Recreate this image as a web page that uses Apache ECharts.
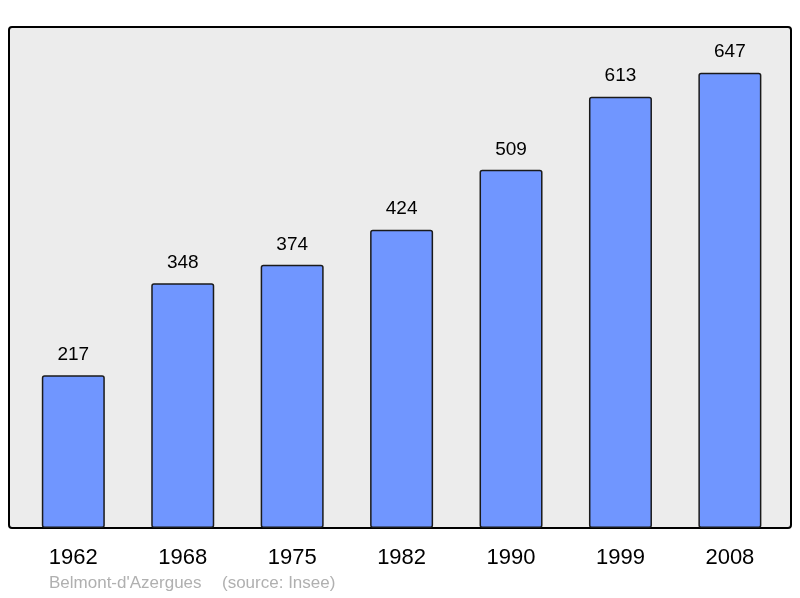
<!DOCTYPE html>
<html><head><meta charset="utf-8">
<script src="https://cdn.jsdelivr.net/npm/echarts@6/dist/echarts.min.js"></script>
<style>html,body{margin:0;padding:0;background:#fff}#c{width:800px;height:598px}</style>
</head><body><div id="c"></div>
<script>
const years = ['1962','1968','1975','1982','1990','1999','2008'];
const population = [217,348,374,424,509,613,647];
const placeName = "Belmont-d'Azergues";
const sourceText = "(source: Insee)";
const chart = echarts.init(document.getElementById('c'));
const footFont = '17px "Liberation Sans", Arial, sans-serif';
chart.setOption({
  animation:false,
  backgroundColor:'#fff',
  graphic:[
    {type:'rect',shape:{x:9,y:27,width:782,height:501,r:3},style:{fill:'#ececec',stroke:'#000',lineWidth:2},z:-10},
    {type:'text',left:49,top:575,style:{text:placeName,fill:'#b0b0b0',font:footFont}},
    {type:'text',left:222,top:575,style:{text:sourceText,fill:'#b0b0b0',font:footFont}}
  ],
  grid:{left:18.6,width:766,top:27,bottom:70},
  xAxis:{type:'category',data:years,axisLine:{show:false},axisTick:{show:false},
    axisLabel:{margin:19,fontSize:22,color:'#000',fontFamily:'Liberation Sans'}},
  yAxis:{type:'value',min:0,max:712,show:false,splitLine:{show:false}},
  series:[{type:'bar',data:population,barWidth:63,
    itemStyle:{color:'#7096ff',borderColor:'#1a1a1a',borderWidth:1.5,borderRadius:2},
    label:{show:true,position:'top',distance:11,fontSize:19,color:'#000',fontFamily:'Liberation Sans'}}]
});
</script></body></html>
